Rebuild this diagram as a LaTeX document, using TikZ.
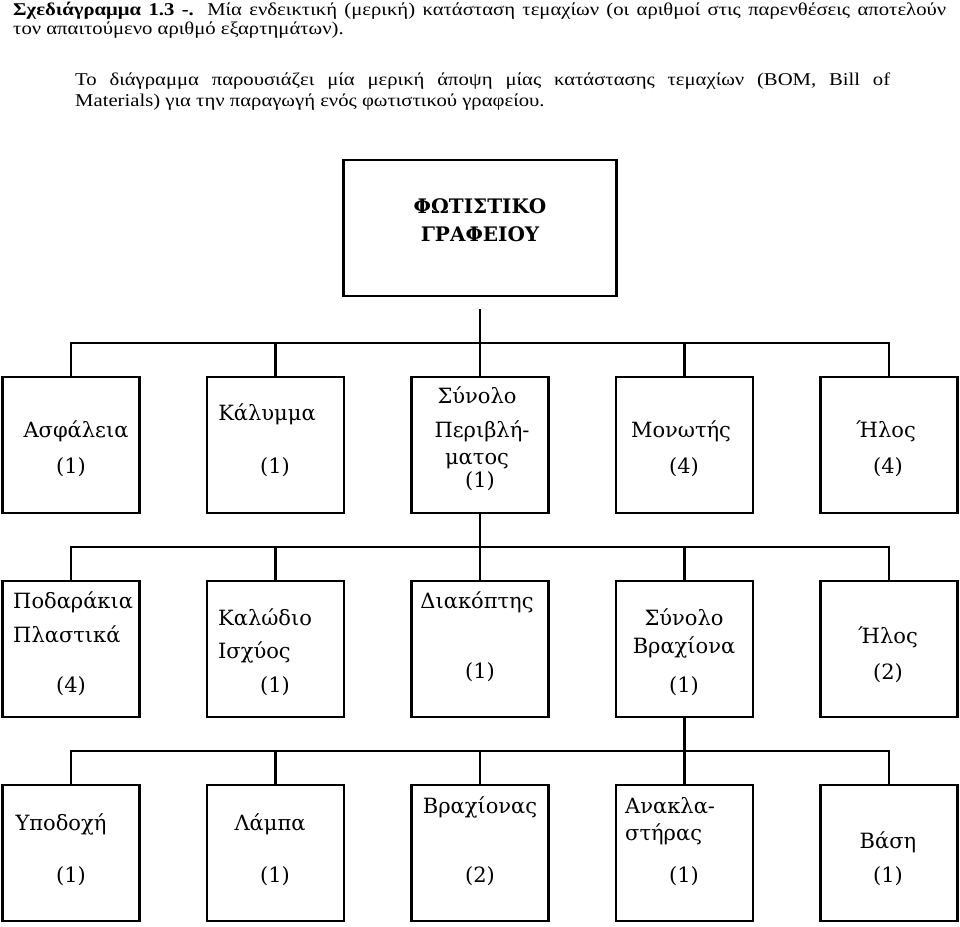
\documentclass[tikz,border=0pt]{standalone}
\usepackage{fontspec}
\setmainfont{Liberation Serif}
\newfontfamily\capfont[FakeStretch=1.15]{Liberation Serif}
\newfontfamily\partfont{DejaVu Serif}
\usetikzlibrary{positioning}
\tikzset{
	partbox/.style={draw, line width=2.6pt, minimum width=137pt, minimum height=136pt, inner sep=0pt, outer sep=0pt}, % Cajas de las piezas
	topbox/.style={partbox, minimum width=273pt}, % Caja del producto final
	bus/.style={line width=2.3pt}, % Lineas que unen las cajas
	txt/.style={font=\partfont\fontsize{21}{24}\selectfont, inner sep=0pt, text height=15pt, text depth=4pt}, % Texto de las piezas
	toptxt/.style={font=\partfont\bfseries\fontsize{20}{23}\selectfont, inner sep=0pt, text height=14pt, text depth=3pt}, % Texto del producto
	captxt/.style={font=\capfont\fontsize{18}{21}\selectfont, inner sep=0pt, anchor=base west} % Texto del epigrafe
}

\begin{document}
\begin{tikzpicture}[x=1pt, y=-1pt]
	\useasboundingbox (0,0) rectangle (960,926);
	% epigrafe
	\node[captxt] (cap1) at (13,16) {\hbox to 933pt{\textbf{Σχεδιάγραμμα 1.3 -.} Μία ενδεικτική (μερική) κατάσταση τεμαχίων (οι αριθμοί στις παρενθέσεις αποτελούν}};
	\node[captxt] (cap2) at (13,34.5) {τον απαιτούμενο αριθμό εξαρτημάτων).};
	\node[captxt] (par1) at (75,85) {\hbox to 815pt{Το διάγραμμα παρουσιάζει μία μερική άποψη μίας κατάστασης τεμαχίων (BOM, Bill of}};
	\node[captxt] (par2) at (75,106.5) {Materials) για την παραγωγή ενός φωτιστικού γραφείου.};

	% cajas
	\node[topbox] (top) at (480,228) {};
	\node[partbox, below=81pt of top] (r1c3) {};
	\node[partbox, left=67.5pt of r1c3] (r1c2) {};
	\node[partbox, left=67.5pt of r1c2] (r1c1) {};
	\node[partbox, right=67.5pt of r1c3] (r1c4) {};
	\node[partbox, right=67.5pt of r1c4] (r1c5) {};
	\node[partbox, below=68pt of r1c1] (r2c1) {};
	\node[partbox, below=68pt of r1c2] (r2c2) {};
	\node[partbox, below=68pt of r1c3] (r2c3) {};
	\node[partbox, below=68pt of r1c4] (r2c4) {};
	\node[partbox, below=68pt of r1c5] (r2c5) {};
	\node[partbox, below=68pt of r2c1] (r3c1) {};
	\node[partbox, below=68pt of r2c2] (r3c2) {};
	\node[partbox, below=68pt of r2c3] (r3c3) {};
	\node[partbox, below=68pt of r2c4] (r3c4) {};
	\node[partbox, below=68pt of r2c5] (r3c5) {};

	% textos
	\node[toptxt] (t0a) at (480,208) {ΦΩΤΙΣΤΙΚΟ};
	\node[toptxt] (t0b) at (480,236) {ΓΡΑΦΕΙΟΥ};

	\node[txt] (t11a) at (76,432) {Ασφάλεια};
	\node[txt] (t11b) at (71,468) {(1)};
	\node[txt] (t12a) at (267,415) {Κάλυμμα};
	\node[txt] (t12b) at (275,468) {(1)};
	\node[txt] (t13a) at (477,398) {Σύνολο};
	\node[txt] (t13b) at (482,432) {Περιβλή-};
	\node[txt] (t13c) at (477,459) {ματος};
	\node[txt] (t13d) at (480,482) {(1)};
	\node[txt] (t14a) at (681,432) {Μονωτής};
	\node[txt] (t14b) at (684,468) {(4)};
	\node[txt] (t15a) at (886,432) {Ήλος};
	\node[txt] (t15b) at (888,468) {(4)};

	\node[txt, anchor=west] (t21a) at (13,603) {Ποδαράκια};
	\node[txt, anchor=west] (t21b) at (13,637) {Πλαστικά};
	\node[txt] (t21c) at (71,687) {(4)};
	\node[txt, anchor=west] (t22a) at (218,620) {Καλώδιο};
	\node[txt, anchor=west] (t22b) at (218,653) {Ισχύος};
	\node[txt] (t22c) at (275,687) {(1)};
	\node[txt] (t23a) at (477,603) {Διακόπτης};
	\node[txt] (t23b) at (480,673) {(1)};
	\node[txt] (t24a) at (684,620) {Σύνολο};
	\node[txt] (t24b) at (684,648) {Βραχίονα};
	\node[txt] (t24c) at (684,687) {(1)};
	\node[txt] (t25a) at (888,638) {Ήλος};
	\node[txt] (t25b) at (888,674) {(2)};

	\node[txt] (t31a) at (61,825) {Υποδοχή};
	\node[txt] (t31b) at (71,877) {(1)};
	\node[txt] (t32a) at (270,825) {Λάμπα};
	\node[txt] (t32b) at (275,877) {(1)};
	\node[txt] (t33a) at (480,808) {Βραχίονας};
	\node[txt] (t33b) at (480,877) {(2)};
	\node[txt, anchor=west] (t34a) at (625,808) {Ανακλα-};
	\node[txt, anchor=west] (t34b) at (625,835) {στήρας};
	\node[txt] (t34c) at (684,877) {(1)};
	\node[txt] (t35a) at (888,843) {Βάση};
	\node[txt] (t35b) at (888,877) {(1)};

	% lineas
	\path (top.south) ++(0,13) coordinate (drop) ++(0,34) coordinate (bus1);
	\path (r1c3.south) ++(0,34) coordinate (bus2);
	\path (r2c4.south) ++(0,34) coordinate (bus3);
	\draw[bus] (drop) -- (bus1);
	\draw[bus] (r1c1.north) |- (bus1) -| (r1c5.north);
	\draw[bus] (r1c3.south) -- (bus2);
	\draw[bus] (r2c1.north) |- (bus2) -| (r2c5.north);
	\draw[bus] (r2c4.south) -- (bus3);
	\draw[bus] (r3c1.north) |- (bus3) -| (r3c5.north);
	\foreach \row/\b in {1/bus1, 2/bus2, 3/bus3}
		\foreach \col in {2,3,4}
			\draw[bus] (r\row c\col.north) -- (r\row c\col.north |- \b);
\end{tikzpicture}
\end{document}
